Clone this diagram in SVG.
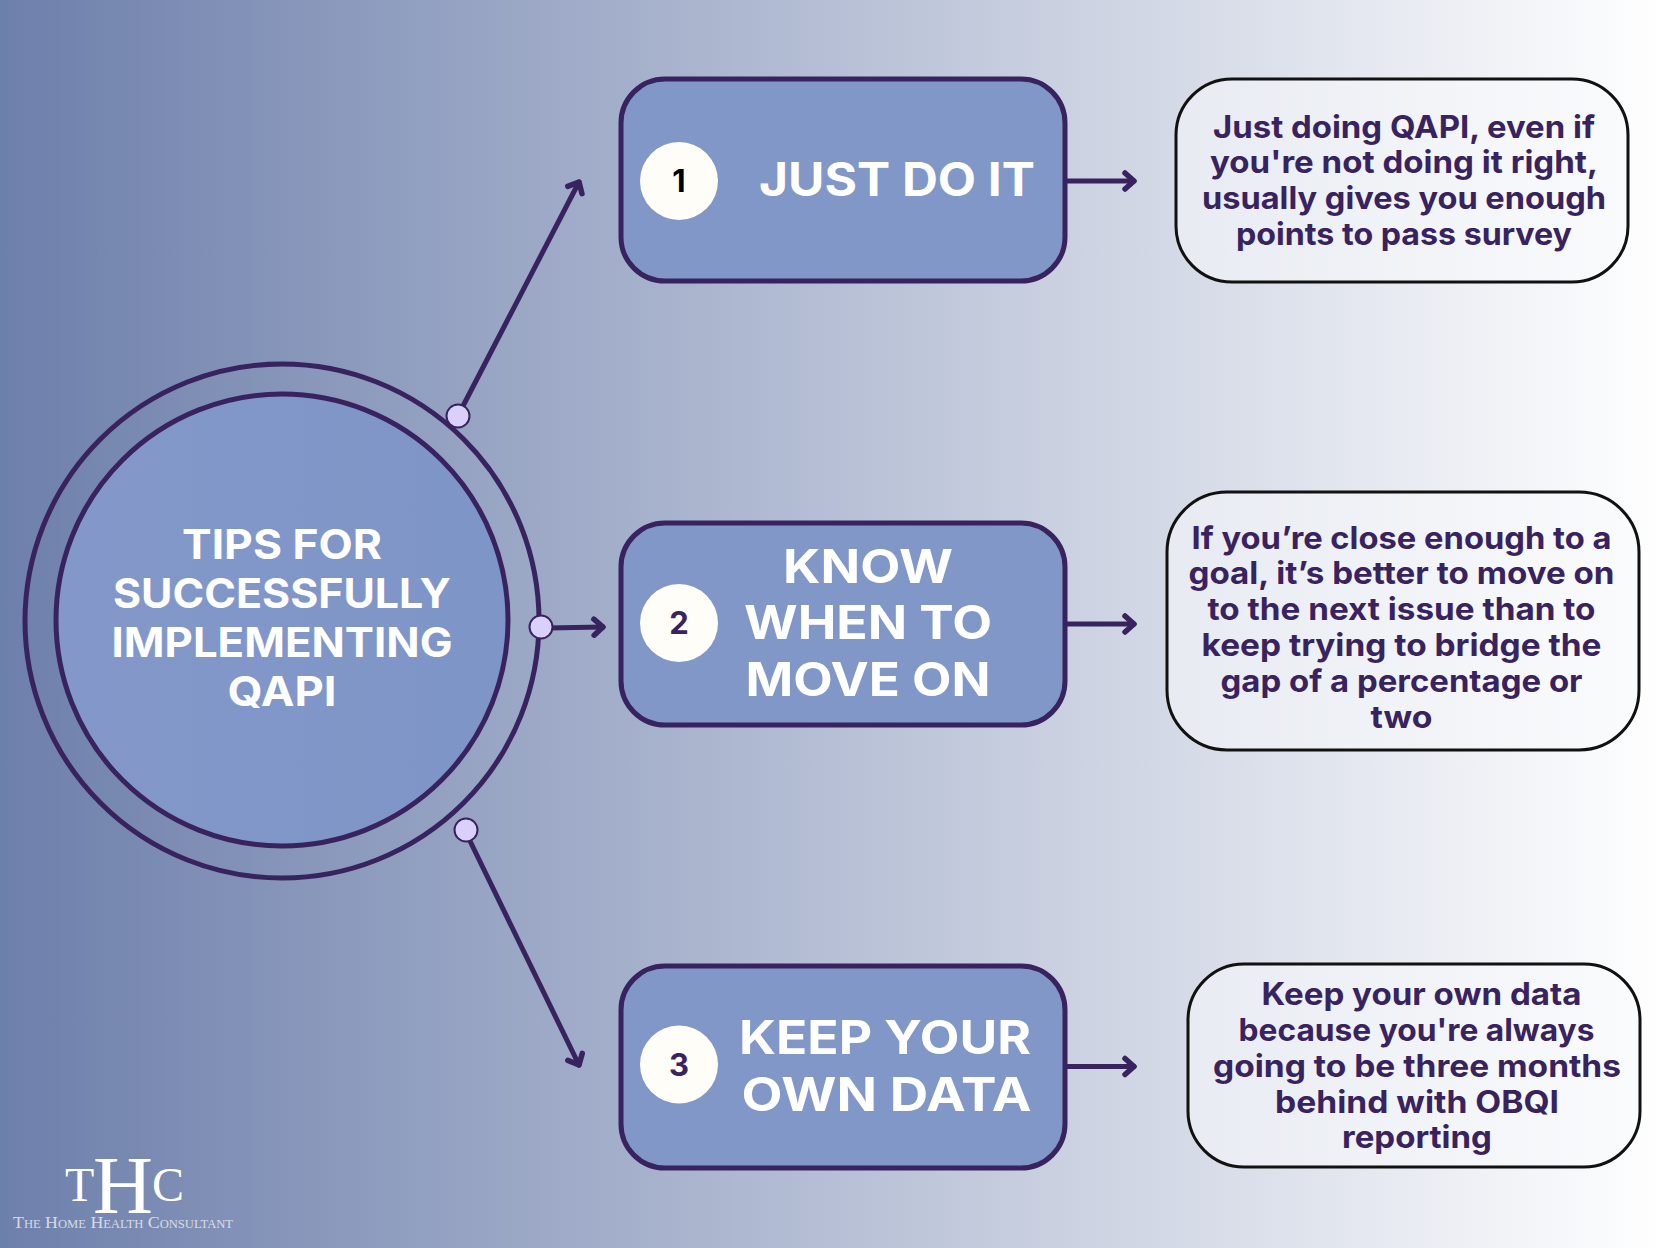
<svg xmlns="http://www.w3.org/2000/svg" width="1664" height="1248" viewBox="0 0 1664 1248">
<style>
.ln{fill:none;stroke:#38235f;stroke-width:5;stroke-linecap:round}
.box{fill:#8097c7;stroke:#38235f;stroke-width:5}
.note{fill-opacity:.55;fill:#f8f9fc;stroke:#111;stroke-width:3}
.dot{fill:#d9d0fb;stroke:#38235f;stroke-width:2}
.num{fill:#fffdf8}
text{font-family:"Inter","Liberation Sans",sans-serif}
.h{fill:#fff;font-size:46px;font-weight:700;text-anchor:middle}
.b{fill:#38235f;font-size:31px;font-weight:700;text-anchor:middle}
.n{fill:#38235f;font-size:31px;font-weight:700;text-anchor:middle}
.c{fill:#fff;font-size:41px;font-weight:700;text-anchor:middle}
.logo{fill:#fff;font-family:"Liberation Serif",serif}
</style>
<defs>
<linearGradient id="bg" x1="0" x2="1" y1="0" y2="0"><stop offset="0" stop-color="#6d7fab"/><stop offset="1" stop-color="#ffffff"/></linearGradient>
<linearGradient id="cf" x1="0" x2="1" y1="0" y2="0"><stop offset="0" stop-color="#8398c9"/><stop offset="1" stop-color="#7e95c7"/></linearGradient>
<marker id="a" markerUnits="userSpaceOnUse" markerWidth="24" markerHeight="28" refX="19" refY="14" orient="auto"><path d="M10 6 L19 14 L10 22" fill="none" stroke="#38235f" stroke-width="5.5" stroke-linecap="round" stroke-linejoin="round"/></marker>
</defs>
<rect id="background" width="1664" height="1248" fill="url(#bg)"/>
<g id="connectors">
<path class="ln" marker-end="url(#a)" d="M463 406 L579 182"/>
<path class="ln" marker-end="url(#a)" d="M548 628 L603 627"/>
<path class="ln" marker-end="url(#a)" d="M470 841 L579 1065"/>
<path class="ln" marker-end="url(#a)" d="M1067 181 L1134 181"/>
<path class="ln" marker-end="url(#a)" d="M1067 624 L1134 624"/>
<path class="ln" marker-end="url(#a)" d="M1067 1066.5 L1134 1066.5"/>
</g>
<g id="hub">
<circle cx="282" cy="621" r="257" fill="none" stroke="#38235f" stroke-width="5"/>
<circle cx="282" cy="620" r="226" fill="url(#cf)" stroke="#38235f" stroke-width="5"/>
<text class="c" x="282" y="559" textLength="200" lengthAdjust="spacingAndGlyphs">TIPS FOR</text>
<text class="c" x="282" y="608" textLength="338" lengthAdjust="spacingAndGlyphs">SUCCESSFULLY</text>
<text class="c" x="282" y="657" textLength="341" lengthAdjust="spacingAndGlyphs">IMPLEMENTING</text>
<text class="c" x="282" y="706" textLength="109" lengthAdjust="spacingAndGlyphs">QAPI</text>
</g>
<g id="dots">
<circle class="dot" cx="458" cy="416" r="11.5"/>
<circle class="dot" cx="541" cy="627" r="11.5"/>
<circle class="dot" cx="466" cy="830" r="11.5"/>
</g>
<g id="step1">
<rect class="box" x="621" y="79" width="444" height="202" rx="44"/>
<circle class="num" cx="679" cy="181" r="39"/>
<text class="n" x="679" y="192" style="fill:#000">1</text>
<text class="h" x="897" y="196" textLength="276" lengthAdjust="spacingAndGlyphs">JUST DO IT</text>
</g>
<g id="note1">
<rect class="note" x="1176" y="79" width="452" height="203" rx="56"/>
<text class="b" x="1404" y="137.5" textLength="382" lengthAdjust="spacingAndGlyphs">Just doing QAPI, even if</text>
<text class="b" x="1404" y="173.3" textLength="388" lengthAdjust="spacingAndGlyphs">you're not doing it right,</text>
<text class="b" x="1404" y="209.1" textLength="404" lengthAdjust="spacingAndGlyphs">usually gives you enough</text>
<text class="b" x="1404" y="244.9" textLength="336" lengthAdjust="spacingAndGlyphs">points to pass survey</text>
</g>
<g id="step2">
<rect class="box" x="621" y="523" width="444" height="202" rx="44"/>
<circle class="num" cx="679" cy="623" r="39"/>
<text class="n" x="679" y="634">2</text>
<text class="h" x="868" y="583" textLength="170" lengthAdjust="spacingAndGlyphs">KNOW</text>
<text class="h" x="868" y="638.5" textLength="248" lengthAdjust="spacingAndGlyphs">WHEN TO</text>
<text class="h" x="868" y="696" textLength="245" lengthAdjust="spacingAndGlyphs">MOVE ON</text>
</g>
<g id="note2">
<rect class="note" x="1167" y="492" width="472" height="258" rx="60"/>
<text class="b" x="1401.5" y="548.5" textLength="420" lengthAdjust="spacingAndGlyphs">If you’re close enough to a</text>
<text class="b" x="1401.5" y="584.3" textLength="426" lengthAdjust="spacingAndGlyphs">goal, it’s better to move on</text>
<text class="b" x="1401.5" y="620.2" textLength="388" lengthAdjust="spacingAndGlyphs">to the next issue than to</text>
<text class="b" x="1401.5" y="656" textLength="400" lengthAdjust="spacingAndGlyphs">keep trying to bridge the</text>
<text class="b" x="1401.5" y="691.5" textLength="362" lengthAdjust="spacingAndGlyphs">gap of a percentage or</text>
<text class="b" x="1401.5" y="727.5" textLength="62" lengthAdjust="spacingAndGlyphs">two</text>
</g>
<g id="step3">
<rect class="box" x="621" y="966" width="444" height="202" rx="44"/>
<circle class="num" cx="679" cy="1064.5" r="39"/>
<text class="n" x="679" y="1075.5">3</text>
<text class="h" x="885" y="1053.5" textLength="292" lengthAdjust="spacingAndGlyphs">KEEP YOUR</text>
<text class="h" x="886.5" y="1110.5" textLength="290" lengthAdjust="spacingAndGlyphs">OWN DATA</text>
</g>
<g id="note3">
<rect class="note" x="1188" y="964" width="452" height="203" rx="56"/>
<text class="b" x="1421.5" y="1005" textLength="320" lengthAdjust="spacingAndGlyphs">Keep your own data</text>
<text class="b" x="1416.5" y="1041" textLength="356" lengthAdjust="spacingAndGlyphs">because you're always</text>
<text class="b" x="1417" y="1077" textLength="408" lengthAdjust="spacingAndGlyphs">going to be three months</text>
<text class="b" x="1417" y="1113" textLength="284" lengthAdjust="spacingAndGlyphs">behind with OBQI</text>
<text class="b" x="1417" y="1148" textLength="150" lengthAdjust="spacingAndGlyphs">reporting</text>
</g>
<g id="logo">
<text class="logo" x="65" y="1201" font-size="48">T</text>
<text class="logo" x="93" y="1213" font-size="83">H</text>
<text class="logo" x="152" y="1201" font-size="48">C</text>
<text class="logo" x="13" y="1228" font-size="17" style="font-variant:small-caps;opacity:.7" textLength="220" lengthAdjust="spacingAndGlyphs">The Home Health Consultant</text>
</g>
</svg>
